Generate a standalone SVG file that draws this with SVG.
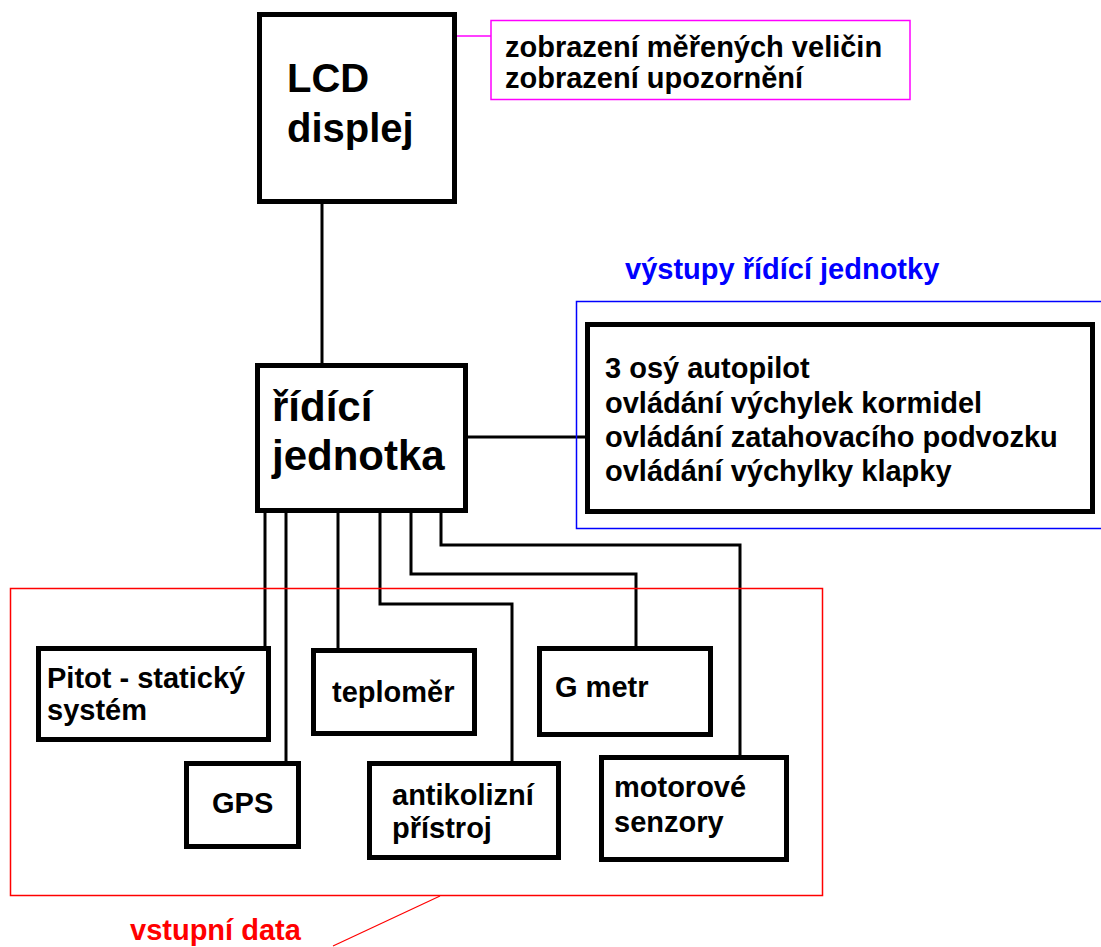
<svg xmlns="http://www.w3.org/2000/svg" width="1101" height="947" viewBox="0 0 1101 947">
<style>
.box{fill:#fff;stroke:#000;stroke-width:5}
.t{font-family:"Liberation Sans",Arial,sans-serif;font-weight:bold;font-size:29px;fill:#000}
.big{font-size:41px}
.con{fill:none;stroke:#000;stroke-width:3}
</style>
<rect width="1101" height="947" fill="#fff"/>
<g id="connectors">
<line class="con" x1="322" y1="204" x2="322" y2="364"/>
<line class="con" x1="467" y1="437" x2="586" y2="437"/>
<line x1="457" y1="36" x2="491" y2="36" stroke="#ff00ff" stroke-width="1.5"/>
<polyline class="con" points="265,512 265,647"/>
<polyline class="con" points="286,512 286,762"/>
<polyline class="con" points="338,512 338,649"/>
<polyline class="con" points="380,512 380,604 512,604 512,762"/>
<polyline class="con" points="411,512 411,574 636,574 636,647"/>
<polyline class="con" points="441,512 441,545 740,545 740,756"/>
<line x1="440" y1="896" x2="333" y2="946" stroke="#ff0000" stroke-width="1.2"/>
</g>
<g id="inputs-group">
<rect x="10.5" y="588.5" width="812" height="307" fill="none" stroke="#ff0000" stroke-width="1.5"/>
<text class="t" x="130" y="940" style="fill:#ff0000">vstupní data</text>
</g>
<g id="outputs-group">
<rect x="576.5" y="301.5" width="540" height="227" fill="none" stroke="#0000ff" stroke-width="1.5"/>
<text class="t" x="625" y="279" style="fill:#0000ff">výstupy řídící jednotky</text>
</g>
<g id="lcd">
<rect class="box" x="259.5" y="14.5" width="195" height="187"/>
<text class="t" x="287" y="92" style="font-size:40px">LCD</text>
<text class="t" x="287" y="142" style="font-size:40px">displej</text>
</g>
<g id="lcd-note">
<rect x="491" y="20.5" width="419" height="79" fill="#fff" stroke="#ff00ff" stroke-width="1.5"/>
<text class="t" x="505" y="57">zobrazení měřených veličin</text>
<text class="t" x="505" y="88">zobrazení upozornění</text>
</g>
<g id="ridici">
<rect class="box" x="257.5" y="365.5" width="208" height="145"/>
<text class="t" x="272" y="421" style="font-size:42px">řídící</text>
<text class="t" x="272" y="470" style="font-size:42px">jednotka</text>
</g>
<g id="vystupy">
<rect class="box" x="587.5" y="324.5" width="505" height="187"/>
<text class="t" x="605" y="378">3 osý autopilot</text>
<text class="t" x="605" y="413">ovládání výchylek kormidel</text>
<text class="t" x="605" y="447">ovládání zatahovacího podvozku</text>
<text class="t" x="605" y="481">ovládání výchylky klapky</text>
</g>
<g id="pitot">
<rect class="box" x="38.5" y="648.5" width="230" height="91"/>
<text class="t" x="47" y="688">Pitot - statický</text>
<text class="t" x="47" y="720">systém</text>
</g>
<g id="teplomer">
<rect class="box" x="313.5" y="650.5" width="161" height="83"/>
<text class="t" x="332" y="702">teploměr</text>
</g>
<g id="gmetr">
<rect class="box" x="539.5" y="648.5" width="171" height="86"/>
<text class="t" x="555" y="697">G metr</text>
</g>
<g id="gps">
<rect class="box" x="186.5" y="763.5" width="112" height="83"/>
<text class="t" x="212" y="813">GPS</text>
</g>
<g id="antikolizni">
<rect class="box" x="369.5" y="763.5" width="189" height="94"/>
<text class="t" x="392" y="805">antikolizní</text>
<text class="t" x="392" y="838">přístroj</text>
</g>
<g id="motorove">
<rect class="box" x="601.5" y="757.5" width="185" height="102"/>
<text class="t" x="614" y="797">motorové</text>
<text class="t" x="614" y="832">senzory</text>
</g>
</svg>
